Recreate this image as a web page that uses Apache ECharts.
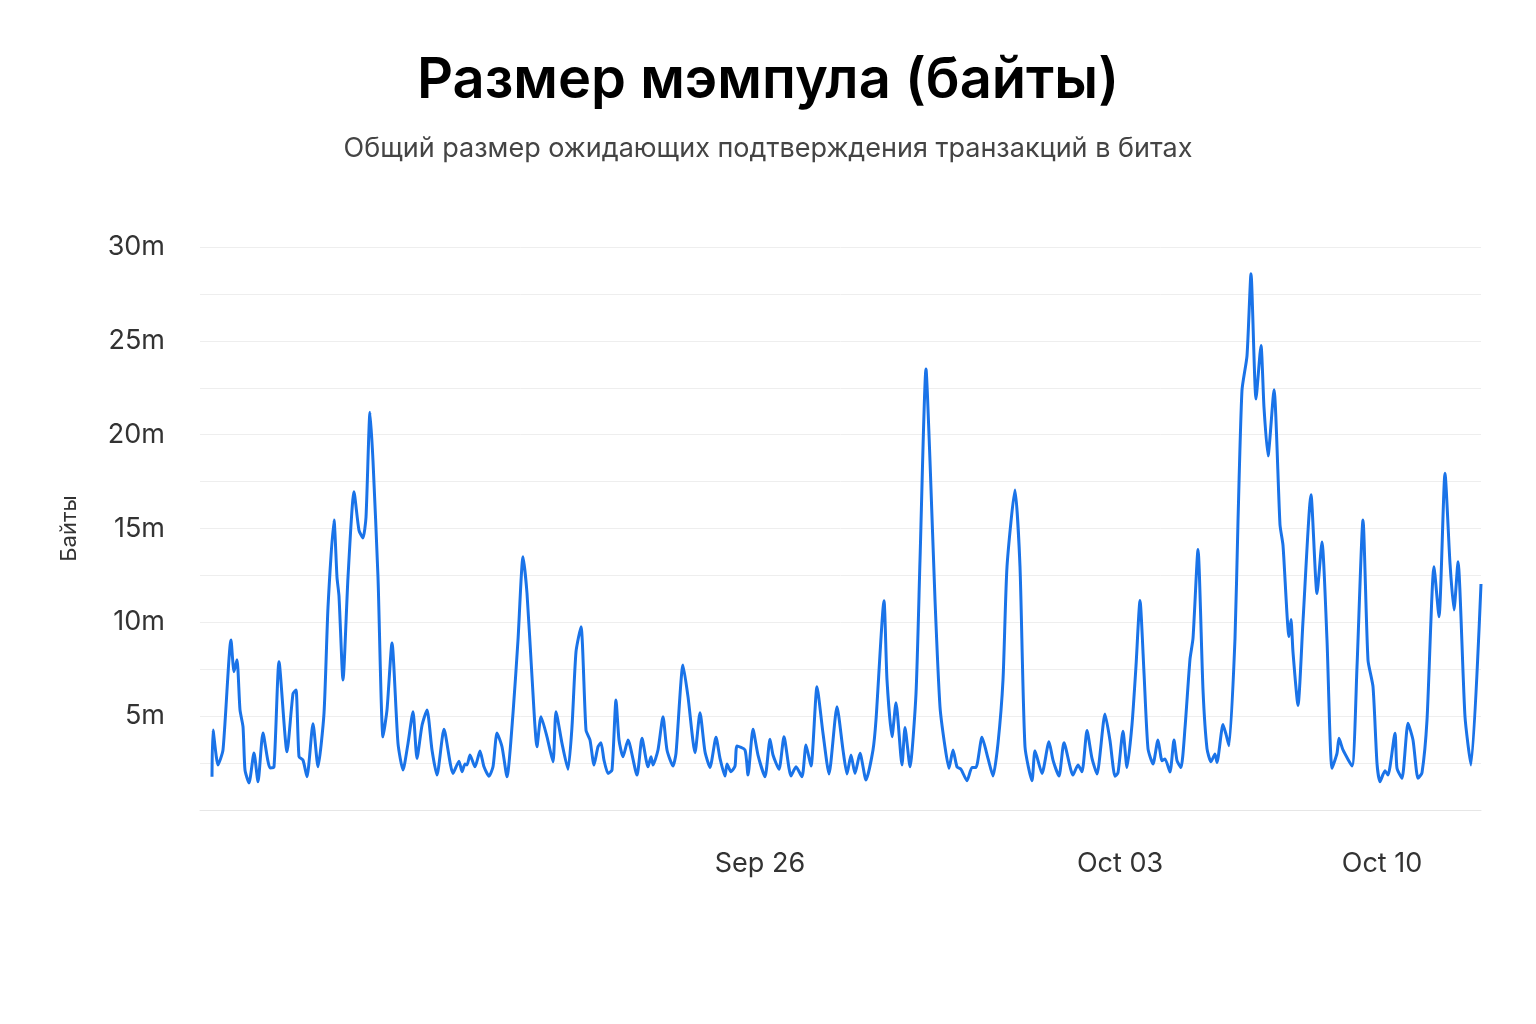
<!DOCTYPE html>
<html><head><meta charset="utf-8">
<script src="https://cdn.jsdelivr.net/npm/echarts@6/dist/echarts.min.js"></script>
<style>html,body{margin:0;background:#fff}#c{width:1536px;height:1024px}</style>
</head><body><div id="c"></div>
<script>
// time position (sample index along the time axis) and mempool size in millions of bytes
const positions = [1,2,7,12,20,23,26,29,32,34,38,43,47,52,59,63,68,76,82,85,88,92,96,102,107,113,117,123,126,128,132,137,143,148,152,155,159,162,167,172,176,181,187,192,197,
202,206,211,216,221,226,233,242,248,251,254,256,259,264,269,273,278,282,286,291,296,302,307,312,316,321,326,330,336,342,345,351,357,361,365,370,375,379,383,387,390,393,397,401,405,408,412,417,
426,431,437,440,442,447,452,456,462,465,472,477,484,489,494,499,505,509,514,516,520,524,526,534,537,542,547,554,559,562,568,573,580,585,591,595,600,606,612,618,626,632,636,640,644,649,655,
662,665,673,676,681,685,691,694,699,705,709,715,719,724,729,734,738,742,746,750,756,761,765,771,777,782,787,792,796,804,809,814,821,824,831,838,842,848,853,862,867,871,876,881,886,894,899,
904,907,912,916,921,925,929,933,937,942,947,951,954,959,963,966,970,974,979,982,987,992,996,1000,1004,1006,1012,1015,1018,1024,1027,1031,1036,1040,1045,1050,1053,1057,1063,1069,1072,1078,1080,1082,1087,1092,1100,1106,1111,
1116,1121,1126,1128,1132,1141,1146,1152,1157,1162,1166,1169,1174,1177,1184,1186,1191,1197,1202,1207,1211,1216,1223,1228,1234,1239,1243,1247,1254,1260,1270];
const values = [1.77,4.26,2.4,3.2,9.06,7.37,8.0,5.33,4.44,2.13,1.44,3.04,1.5,4.1,2.24,2.3,7.9,3.1,6.2,6.4,2.84,2.66,1.77,4.6,2.3,5.15,10.8,15.45,12.4,11.4,6.93,12.4,16.96,14.9,14.5,15.6,21.2,18.6,12.4,3.9,5.33,8.9,3.55,2.13,3.55,
5.24,2.75,4.5,5.33,3.2,1.86,4.3,1.95,2.6,2.04,2.45,2.4,2.93,2.3,3.14,2.3,1.8,2.3,4.1,3.37,1.77,5.15,9.06,13.5,11.55,7.1,3.37,4.97,3.9,2.57,5.24,3.55,2.17,4.44,8.43,9.77,4.26,3.73,2.4,3.37,3.58,2.66,1.95,2.13,5.86,3.73,2.84,3.73,
1.86,3.82,2.3,2.84,2.4,3.2,4.97,3.2,2.34,3.02,7.73,6.04,3.05,5.18,3.1,2.27,3.87,2.75,1.81,2.45,2.04,2.34,3.41,3.2,1.86,4.3,2.93,1.77,3.77,2.93,2.17,3.9,1.81,2.3,1.77,3.46,2.34,6.57,4.09,1.92,5.5,3.2,1.92,2.93,1.95,3.02,1.6,
3.2,4.8,11.15,6.93,3.9,5.72,2.4,4.39,2.3,6.2,13.3,23.5,18.6,11.2,5.5,3.37,2.22,3.2,2.3,2.17,1.56,2.27,2.27,3.87,2.75,1.81,3.55,6.93,12.96,17.05,12.96,3.37,1.56,3.16,1.95,3.64,2.66,1.81,3.58,1.86,2.4,2.04,4.23,2.75,1.92,5.11,3.7,
1.8,1.98,4.19,2.26,4.55,7.68,11.17,7.31,3.27,2.45,3.73,2.63,2.72,2.02,3.73,2.63,2.26,4.37,8.04,9.14,13.88,6.4,3.27,2.57,2.99,2.53,4.55,4.04,3.42,9.14,15.39,22.37,24.2,28.57,21.9,24.75,21.44,18.87,22.4,15.2,14.1,9.24,10.15,8.41,5.57,10.06,16.8,11.53,14.28,
9.06,2.22,3.02,3.82,3.2,2.34,7.63,15.45,7.99,6.57,2.49,1.51,2.09,1.86,4.09,2.22,1.69,4.62,3.73,1.69,1.99,4.79,12.96,10.3,17.94,13.14,10.66,13.23,4.97,2.4,12.04];
const tickPositions = [549,909,1171];
const tickLabels = ['Sep 26','Oct 03','Oct 10'];

const data = positions.map((p,i)=>[p,values[i]]);
const chart = echarts.init(document.getElementById('c'));
chart.setOption({
  backgroundColor:'#fff',
  title:{text:'Размер мэмпула (байты)',subtext:'Общий размер ожидающих подтверждения транзакций в битах',
    left:'center',top:48,itemGap:26,
    textStyle:{fontFamily:'Inter',fontSize:56,fontWeight:600,color:'#000'},
    subtextStyle:{fontFamily:'Inter',fontSize:27,color:'#444'}},
  grid:{left:200,right:55,top:247,bottom:214},
  xAxis:{type:'value',min:-11,max:1270,
    axisLine:{show:true,lineStyle:{color:'#e6e6e6'}},axisTick:{show:false},splitLine:{show:false},
    axisLabel:{customValues:tickPositions,formatter:v=>tickLabels[tickPositions.indexOf(Math.round(v))]||'',
      fontFamily:'Inter',fontSize:27,color:'#333',margin:40}},
  yAxis:{type:'value',min:0,max:30,interval:2.5,name:'Байты',nameLocation:'middle',nameGap:120,
    nameTextStyle:{fontFamily:'Inter',fontSize:22,color:'#333'},
    axisLine:{show:false},axisTick:{show:false},
    splitLine:{lineStyle:{color:'#eeeeee'}},
    axisLabel:{fontFamily:'Inter',fontSize:27,color:'#333',margin:35,
      formatter:v=>(v>0&&v%5===0)?v+'m':''}},
  series:[{type:'line',data:data,showSymbol:false,smooth:0.2,
    lineStyle:{color:'#1a73e8',width:3}}]
});
</script></body></html>
